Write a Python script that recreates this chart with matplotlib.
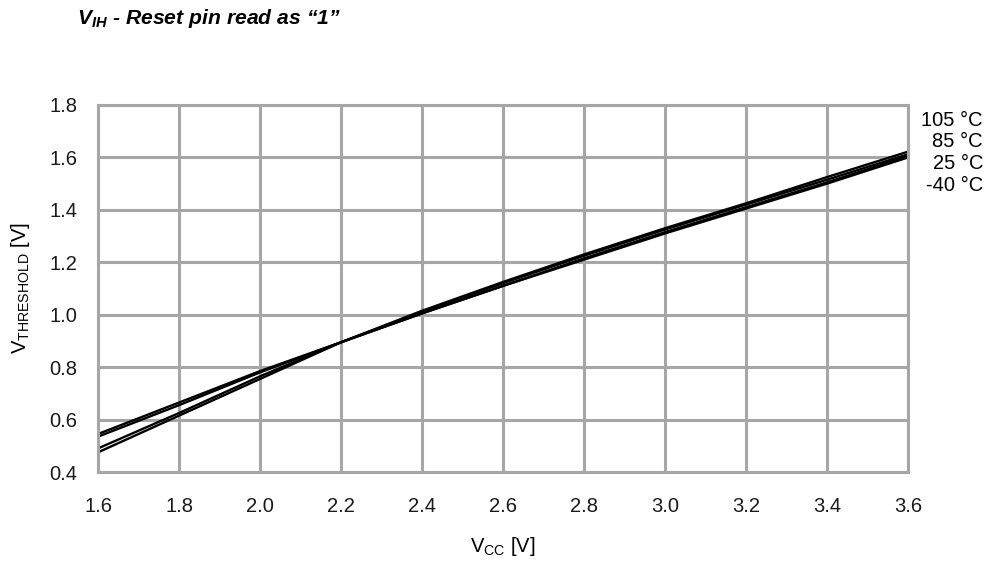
import matplotlib
matplotlib.use("Agg")
import matplotlib.pyplot as plt

plt.rcParams['font.family'] = ['Liberation Sans', 'DejaVu Sans']
plt.rcParams['mathtext.fontset'] = 'custom'
plt.rcParams['mathtext.rm'] = 'Liberation Sans'
plt.rcParams['mathtext.it'] = 'Liberation Sans:italic:bold'
plt.rcParams['mathtext.bf'] = 'Liberation Sans:italic:bold'

vcc = [1.6, 1.8, 2.0, 2.2, 2.4, 2.6, 2.8, 3.0, 3.2, 3.4, 3.6]
v_m40 = [0.545, 0.665, 0.785, 0.895, 1.005, 1.11, 1.21, 1.31, 1.405, 1.50, 1.60]
v_25 = [0.535, 0.655, 0.78, 0.895, 1.005, 1.11, 1.215, 1.315, 1.41, 1.505, 1.605]
v_85 = [0.49, 0.625, 0.765, 0.895, 1.01, 1.12, 1.225, 1.325, 1.42, 1.515, 1.612]
v_105 = [0.475, 0.615, 0.755, 0.895, 1.015, 1.125, 1.23, 1.33, 1.425, 1.525, 1.622]
temps = ["105 °C", "85 °C", "25 °C", "-40 °C"]

fs = 14.5
fig = plt.figure(figsize=(9.88, 5.63), dpi=100)
ax = fig.add_axes([0.0992, 0.1616, 0.82, 0.652])

for ys in (v_m40, v_25, v_85, v_105):
    ax.plot(vcc, ys, color='black', lw=1.7, solid_capstyle='butt')

ax.set_xlim(1.6, 3.6)
ax.set_ylim(0.4, 1.8)
ax.set_xticks([1.6 + 0.2 * i for i in range(11)])
ax.set_yticks([0.4 + 0.2 * i for i in range(8)])
ax.xaxis.set_major_formatter(matplotlib.ticker.FormatStrFormatter('%.1f'))
ax.yaxis.set_major_formatter(matplotlib.ticker.FormatStrFormatter('%.1f'))
ax.tick_params(length=0, labelsize=fs, colors='#1a1a1a')
ax.tick_params(axis='y', pad=15)
ax.tick_params(axis='x', pad=18)
ax.grid(True, color='#a6a6a6', lw=2.2)
ax.set_axisbelow(True)
for s in ax.spines.values():
    s.set_color('#a6a6a6')
    s.set_linewidth(2.2)

fig.text(503 / 988, 1 - 547 / 563, r'V$_{\mathrm{CC}}$ [V]', fontsize=fs,
         ha='center', va='center')
fig.text(20 / 988, 1 - 288 / 563, r'V$_{\mathrm{THRESHOLD}}$ [V]', fontsize=fs,
         ha='center', va='center', rotation=90)

for i, t in enumerate(temps):
    fig.text(983 / 988, 1 - (120 + i * 21.7) / 563, t, ha='right', va='center', fontsize=fs)

fig.text(77 / 988, 1 - 18 / 563, r'$V_{IH}$ - Reset pin read as “1”', fontsize=15.2,
         style='italic', weight='bold', va='center')

fig.savefig('out.png', dpi=100)
